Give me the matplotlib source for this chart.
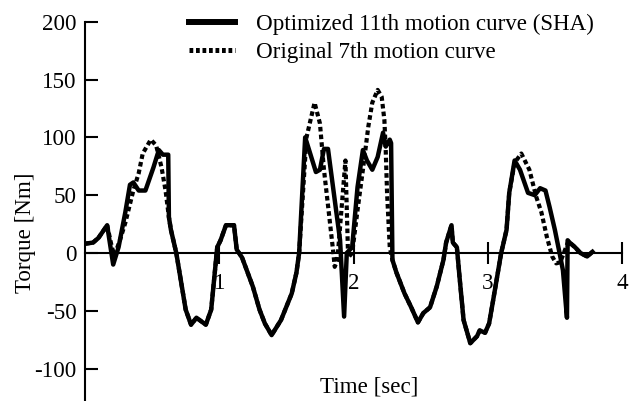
import matplotlib.pyplot as plt
from matplotlib.lines import Line2D

plt.rcParams["font.family"] = ["Liberation Serif", "DejaVu Serif"]

# optimized 11th motion curve (SHA), solid
opt_t = [0.00, 0.06, 0.10, 0.165, 0.21, 0.25, 0.30, 0.335, 0.36, 0.40, 0.45, 0.51,
         0.55, 0.58, 0.62, 0.625, 0.64, 0.68, 0.75, 0.79, 0.83, 0.90, 0.94, 0.985,
         1.01, 1.05, 1.11, 1.13, 1.17, 1.25, 1.30, 1.34, 1.39, 1.46, 1.54, 1.575,
         1.595, 1.64, 1.72, 1.75, 1.78, 1.81, 1.86, 1.90, 1.93, 1.95, 1.99, 2.03,
         2.07, 2.10, 2.14, 2.18, 2.22, 2.24, 2.27, 2.28, 2.29, 2.32, 2.38, 2.43,
         2.48, 2.52, 2.57, 2.62, 2.67, 2.69, 2.73, 2.74, 2.77, 2.79, 2.82, 2.87,
         2.92, 2.94, 2.98, 3.01, 3.04, 3.10, 3.14, 3.16, 3.20, 3.24, 3.30, 3.35,
         3.39, 3.43, 3.46, 3.50, 3.54, 3.56, 3.59, 3.595, 3.61, 3.65, 3.69, 3.74,
         3.78]
opt_torque = [8, 9, 13, 24, -10, 5, 35, 59, 61, 54, 54, 74,
              89, 85, 85, 31, 20, 0, -49, -62, -56, -62, -49, 5,
              11, 24, 24, 3, -4, -29, -49, -61, -71, -58, -35, -17,
              0, 100, 70, 72, 90, 90, 46, 11, -55, 0, 5, 57,
              89, 80, 72, 83, 104, 92, 98, 95, -6, -17, -35, -47,
              -60, -52, -47, -29, -6, 9, 24, 9, 5, -21, -58, -78,
              -72, -67, -69, -61, -41, 0, 20, 52, 80, 72, 52, 50,
              56, 54, 40, 20, -3, -15, -56, 11, 9, 5, 0, -3,
              1]

# original 7th motion curve, dashed
orig_t = [0.00, 0.06, 0.10, 0.165, 0.20, 0.22, 0.26, 0.30, 0.36, 0.40, 0.43, 0.49,
          0.53, 0.57, 0.60, 0.625, 0.64, 0.68, 0.75, 0.79, 0.83, 0.90, 0.94, 0.985,
          1.01, 1.05, 1.11, 1.13, 1.17, 1.25, 1.30, 1.34, 1.39, 1.46, 1.54, 1.575,
          1.595, 1.65, 1.71, 1.75, 1.78, 1.82, 1.85, 1.86, 1.88, 1.94, 1.96, 1.99,
          2.03, 2.07, 2.11, 2.14, 2.18, 2.21, 2.23, 2.24, 2.25, 2.27, 2.29, 2.32,
          2.38, 2.43, 2.48, 2.52, 2.57, 2.62, 2.67, 2.69, 2.73, 2.74, 2.77, 2.79,
          2.82, 2.87, 2.92, 2.94, 2.98, 3.01, 3.04, 3.10, 3.14, 3.16, 3.20, 3.25,
          3.31, 3.36, 3.40, 3.44, 3.48, 3.51, 3.54, 3.60, 3.61, 3.65, 3.69, 3.74,
          3.78]
orig_torque = [8, 9, 13, 24, 5, -2, 11, 26, 54, 69, 86, 98,
               93, 74, 54, 31, 20, 0, -49, -62, -56, -62, -49, 5,
               11, 24, 24, 3, -4, -29, -49, -61, -71, -58, -35, -17,
               0, 100, 130, 112, 72, 31, 0, -12, -6, 80, -4, 0,
               37, 72, 109, 130, 141, 135, 115, 89, 52, 5, -6, -17,
               -35, -47, -60, -52, -47, -29, -6, 9, 24, 9, 5, -21,
               -58, -78, -72, -67, -69, -61, -41, 0, 20, 52, 78, 86,
               72, 49, 35, 14, -3, -9, -8, 10, 9, 5, 0, -3,
               1]

x_ticks = [1, 2, 3, 4]
y_ticks = [-100, -50, 0, 50, 100, 150, 200]
legend_labels = ["Optimized 11th motion curve (SHA)", "Original 7th motion curve"]

FS = 16.6
W, H = 638, 401

fig = plt.figure(figsize=(W / 100, H / 100), dpi=100)
ax = fig.add_axes([85 / W, 0.0, 537 / W, (H - 21.7) / H])

ax.plot(orig_t, orig_torque, color="black", lw=3.0, ls=(0, (1.1, 0.75)),
        dash_capstyle="butt", dash_joinstyle="round", zorder=2)
ax.plot(opt_t, opt_torque, color="black", lw=3.2, solid_joinstyle="round", zorder=3)

ax.set_xlim(0, 4)
ax.set_ylim(-128, 200)
ax.spines["bottom"].set_position(("data", 0))
ax.spines["top"].set_visible(False)
ax.spines["right"].set_visible(False)
for side in ("left", "bottom"):
    ax.spines[side].set_linewidth(1.5)

ax.set_xticks(x_ticks)
ax.set_xticklabels([str(v) for v in x_ticks])
ax.set_yticks(y_ticks)
ax.set_yticklabels([str(v) for v in y_ticks])
ax.tick_params(axis="x", direction="inout", length=16, width=1.5, pad=6.3, labelsize=FS)
ax.tick_params(axis="y", direction="in", length=9.5, width=1.5, pad=6, labelsize=FS)

ax.set_ylabel("Torque [Nm]", fontsize=FS)
ax.yaxis.set_label_coords(-0.091, 0.443)
ax.text(0.529, 0.037, "Time [sec]", transform=ax.transAxes, fontsize=FS,
        ha="center", va="center")

handles = [
    Line2D([], [], color="black", lw=4.3),
    Line2D([], [], color="black", lw=3.6, ls=(0, (0.75, 0.55)), dash_capstyle="butt"),
]
fig.legend(handles, legend_labels, loc="upper left", bbox_to_anchor=(180 / W, 0.988),
           frameon=False, fontsize=FS, handlelength=2.0, handletextpad=0.9,
           labelspacing=0.3, borderaxespad=0.0)

fig.savefig("out.png", dpi=100)
